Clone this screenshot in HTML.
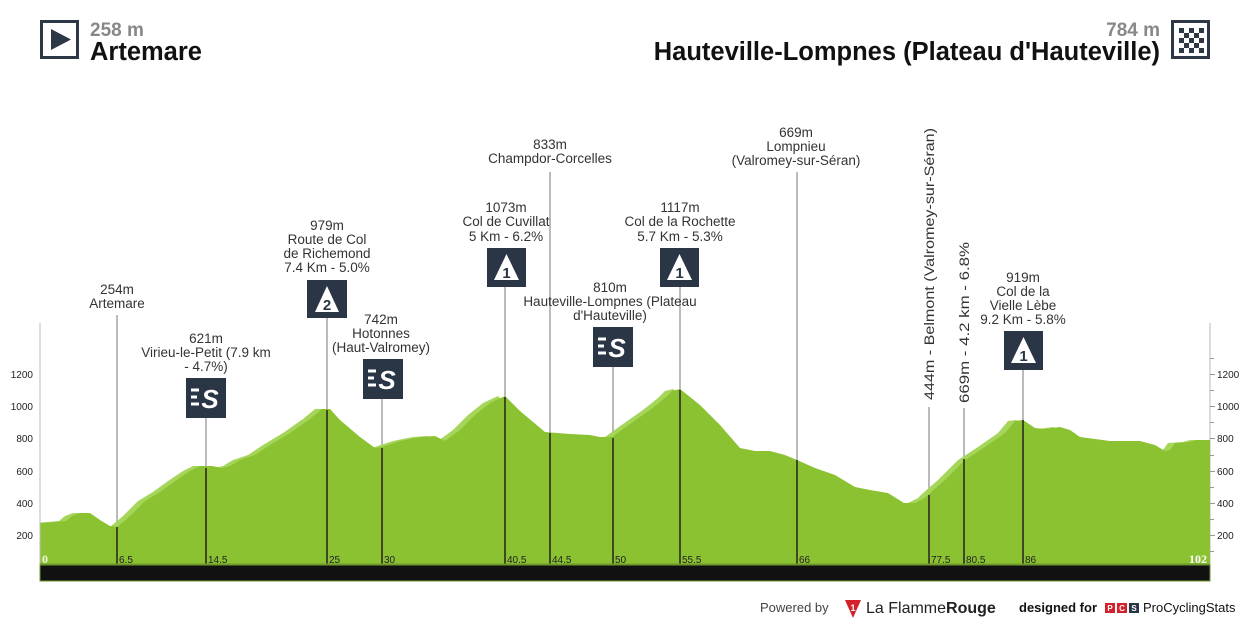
<!DOCTYPE html>
<html><head><meta charset="utf-8"><style>
html,body{margin:0;padding:0;background:#fff;}
svg{display:block;font-family:"Liberation Sans",sans-serif;}
</style></head><body>
<svg width="1250" height="625" viewBox="0 0 1250 625" xmlns="http://www.w3.org/2000/svg">
<!-- header -->
<rect x="41.5" y="21.5" width="36" height="36" fill="#fff" stroke="#2d3746" stroke-width="3"/>
<polygon points="51,29 51,50 71,39.5" fill="#2d3746"/>
<text x="90" y="36" font-size="19" font-weight="bold" fill="#888">258 m</text>
<text x="90" y="60" font-size="25.5" font-weight="bold" fill="#111">Artemare</text>
<rect x="1172.5" y="21.5" width="36" height="36" fill="#fff" stroke="#2d3746" stroke-width="3"/>
<g fill="#2d3746">
<rect x="1179" y="28" width="5" height="5"/><rect x="1189" y="28" width="5" height="5"/><rect x="1199" y="28" width="5" height="5"/>
<rect x="1184" y="33" width="5" height="5"/><rect x="1194" y="33" width="5" height="5"/>
<rect x="1179" y="38" width="5" height="5"/><rect x="1189" y="38" width="5" height="5"/><rect x="1199" y="38" width="5" height="5"/>
<rect x="1184" y="43" width="5" height="5"/><rect x="1194" y="43" width="5" height="5"/>
<rect x="1179" y="48" width="5" height="5"/><rect x="1189" y="48" width="5" height="5"/><rect x="1199" y="48" width="5" height="5"/>
</g>
<text x="1160" y="36" font-size="19" font-weight="bold" fill="#888" text-anchor="end">784 m</text>
<text x="1160" y="60" font-size="25.5" font-weight="bold" fill="#111" text-anchor="end">Hauteville-Lompnes (Plateau d'Hauteville)</text>

<!-- axes -->
<g stroke="#bbb" stroke-width="1">
<line x1="40" y1="323" x2="40" y2="565"/>
<line x1="1210" y1="323" x2="1210" y2="565"/>
</g>
<g stroke="#999" stroke-width="1">
<line x1="35" y1="374.5" x2="40" y2="374.5"/><line x1="35" y1="406.5" x2="40" y2="406.5"/><line x1="35" y1="438.5" x2="40" y2="438.5"/><line x1="35" y1="471.5" x2="40" y2="471.5"/><line x1="35" y1="503.5" x2="40" y2="503.5"/><line x1="35" y1="535.5" x2="40" y2="535.5"/>
<line x1="36" y1="358.5" x2="40" y2="358.5"/><line x1="36" y1="390.5" x2="40" y2="390.5"/><line x1="36" y1="422.5" x2="40" y2="422.5"/><line x1="36" y1="455.5" x2="40" y2="455.5"/><line x1="36" y1="487.5" x2="40" y2="487.5"/><line x1="36" y1="519.5" x2="40" y2="519.5"/><line x1="36" y1="551.5" x2="40" y2="551.5"/>
<line x1="1210" y1="374.5" x2="1215" y2="374.5"/><line x1="1210" y1="406.5" x2="1215" y2="406.5"/><line x1="1210" y1="438.5" x2="1215" y2="438.5"/><line x1="1210" y1="471.5" x2="1215" y2="471.5"/><line x1="1210" y1="503.5" x2="1215" y2="503.5"/><line x1="1210" y1="535.5" x2="1215" y2="535.5"/>
<line x1="1210" y1="358.5" x2="1214" y2="358.5"/><line x1="1210" y1="390.5" x2="1214" y2="390.5"/><line x1="1210" y1="422.5" x2="1214" y2="422.5"/><line x1="1210" y1="455.5" x2="1214" y2="455.5"/><line x1="1210" y1="487.5" x2="1214" y2="487.5"/><line x1="1210" y1="519.5" x2="1214" y2="519.5"/><line x1="1210" y1="551.5" x2="1214" y2="551.5"/>
</g>
<g font-size="10" fill="#222" text-anchor="end">
<text x="33" y="378">1200</text><text x="33" y="410">1000</text><text x="33" y="442">800</text><text x="33" y="475">600</text><text x="33" y="507">400</text><text x="33" y="539">200</text>
</g>
<g font-size="10" fill="#222">
<text x="1217" y="378">1200</text><text x="1217" y="410">1000</text><text x="1217" y="442">800</text><text x="1217" y="475">600</text><text x="1217" y="507">400</text><text x="1217" y="539">200</text>
</g>

<!-- grey marker lines -->
<g stroke="#bbb" stroke-width="2">
<line x1="117" y1="315" x2="117" y2="530"/>
<line x1="206" y1="417" x2="206" y2="470"/>
<line x1="327" y1="318" x2="327" y2="412"/>
<line x1="382" y1="398" x2="382" y2="450"/>
<line x1="505" y1="286" x2="505" y2="398"/>
<line x1="550" y1="172" x2="550" y2="434"/>
<line x1="613" y1="366" x2="613" y2="440"/>
<line x1="680" y1="286" x2="680" y2="390"/>
<line x1="797" y1="172" x2="797" y2="461"/>
<line x1="929" y1="407" x2="929" y2="498"/>
<line x1="964" y1="408" x2="964" y2="462"/>
<line x1="1023" y1="369" x2="1023" y2="422"/>
</g>

<!-- profile -->
<defs>
<polygon id="p" points="40,523 55,522 66,521 72,516 80,513 90,513 100,520 110,526 117,527 130,516 145,501 160,492 175,481 190,471 200,466 212,466 222,468 230,466 240,460 255,455 270,445 290,433 310,419 322,409 330,409 340,420 360,437 375,448 382,447 400,441 420,437 435,436 445,441 460,430 475,415 490,403 505,396 520,411 545,432 570,434 590,435 600,437 612,437 630,424 650,410 665,398 672,391 680,389 700,405 720,425 740,448 755,451 770,451 785,455 797,460 815,468 835,475 855,487 870,490 888,493 904,503 915,503 925,498 929,494 945,480 965,460 985,447 1005,433 1015,421 1023,420 1035,428 1045,429 1060,427 1070,430 1080,437 1095,439 1110,441 1140,441 1155,445 1165,451 1170,450 1175,443 1190,442 1197,440 1210,440 1210,565 40,565"/>
</defs>
<use href="#p" transform="translate(-7,0)" fill="#a5d65a"/>
<use href="#p" fill="#8bc232"/>
<rect x="33" y="300" width="7" height="270" fill="#fff"/>
<line x1="40" y1="323" x2="40" y2="565" stroke="#bbb"/>

<!-- dark marker lines -->
<g stroke="#3d4a22" stroke-width="2">
<line x1="117" y1="527" x2="117" y2="565"/>
<line x1="206" y1="468" x2="206" y2="565"/>
<line x1="327" y1="410" x2="327" y2="565"/>
<line x1="382" y1="448" x2="382" y2="565"/>
<line x1="505" y1="397" x2="505" y2="565"/>
<line x1="550" y1="433" x2="550" y2="565"/>
<line x1="613" y1="438" x2="613" y2="565"/>
<line x1="680" y1="390" x2="680" y2="565"/>
<line x1="797" y1="460" x2="797" y2="565"/>
<line x1="929" y1="495" x2="929" y2="565"/>
<line x1="964" y1="459" x2="964" y2="565"/>
<line x1="1023" y1="420" x2="1023" y2="565"/>
</g>

<!-- bottom bar -->
<rect x="40" y="565" width="1170" height="16" fill="#111" stroke="#6e9a2c" stroke-width="1"/>
<line x1="40" y1="564.5" x2="1210" y2="564.5" stroke="#6e9a2c" stroke-width="2"/>
<g font-size="10" fill="#222">
<text x="119" y="563">6.5</text><text x="208" y="563">14.5</text><text x="329" y="563">25</text><text x="384" y="563">30</text>
<text x="507" y="563">40.5</text><text x="552" y="563">44.5</text><text x="615" y="563">50</text><text x="682" y="563">55.5</text>
<text x="799" y="563">66</text><text x="931" y="563">77.5</text><text x="966" y="563">80.5</text><text x="1025" y="563">86</text>
</g>
<text x="42" y="563" font-size="12" font-weight="bold" fill="#eef8dd" font-family="Liberation Serif,serif">0</text>
<text x="1207" y="563" font-size="12" font-weight="bold" fill="#fff" text-anchor="end" font-family="Liberation Serif,serif">102</text>

<!-- icons -->
<g fill="#2a3545">
<rect x="186" y="378" width="40" height="40"/>
<rect x="307" y="280" width="40" height="38"/>
<rect x="363" y="359" width="40" height="40"/>
<rect x="487" y="248" width="39" height="39"/>
<rect x="593" y="327" width="40" height="40"/>
<rect x="660" y="248" width="39" height="39"/>
<rect x="1004" y="331" width="39" height="39"/>
</g>
<g fill="#fff">
<polygon points="327,286 315,312 339,312"/>
<polygon points="506.5,254 494,280 519,280"/>
<polygon points="679.5,254 667,280 692,280"/>
<polygon points="1023.5,337 1011,363 1036,363"/>
</g>
<g font-size="15" font-weight="bold" fill="#2a3545" text-anchor="middle">
<text x="327" y="310">2</text><text x="506.5" y="278">1</text><text x="679.5" y="278">1</text><text x="1023.5" y="361">1</text>
</g>
<g font-size="26" font-weight="bold" fill="#fff" font-style="italic" text-anchor="middle">
<text x="210" y="408">S</text><text x="387" y="389">S</text><text x="617" y="357">S</text>
</g>
<g stroke="#fff" stroke-width="3">
<line x1="191" y1="390" x2="199" y2="390"/><line x1="191" y1="397" x2="197" y2="397"/><line x1="191" y1="404" x2="199" y2="404"/>
<line x1="368" y1="371" x2="376" y2="371"/><line x1="368" y1="378" x2="374" y2="378"/><line x1="368" y1="385" x2="376" y2="385"/>
<line x1="598" y1="339" x2="606" y2="339"/><line x1="598" y1="346" x2="604" y2="346"/><line x1="598" y1="353" x2="606" y2="353"/>
</g>

<!-- labels -->
<g font-size="13.5" fill="#333" text-anchor="middle">
<text x="117" y="294">254m</text><text x="117" y="308">Artemare</text>
<text x="206" y="343">621m</text><text x="206" y="357">Virieu-le-Petit (7.9 km</text><text x="206" y="371">- 4.7%)</text>
<text x="327" y="230">979m</text><text x="327" y="244">Route de Col</text><text x="327" y="258">de Richemond</text><text x="327" y="272">7.4 Km - 5.0%</text>
<text x="381" y="324">742m</text><text x="381" y="338">Hotonnes</text><text x="381" y="352">(Haut-Valromey)</text>
<text x="506" y="212">1073m</text><text x="506" y="226">Col de Cuvillat</text><text x="506" y="241">5 Km - 6.2%</text>
<text x="550" y="149">833m</text><text x="550" y="163">Champdor-Corcelles</text>
<text x="610" y="292">810m</text><text x="610" y="306">Hauteville-Lompnes (Plateau</text><text x="610" y="320">d'Hauteville)</text>
<text x="680" y="212">1117m</text><text x="680" y="226">Col de la Rochette</text><text x="680" y="241">5.7 Km - 5.3%</text>
<text x="796" y="137">669m</text><text x="796" y="151">Lompnieu</text><text x="796" y="165">(Valromey-sur-Séran)</text>
<text x="1023" y="282">919m</text><text x="1023" y="296">Col de la</text><text x="1023" y="310">Vielle Lèbe</text><text x="1023" y="324">9.2 Km - 5.8%</text>
</g>
<g font-size="13.5" fill="#333">
<text transform="translate(934,400) rotate(-90)" textLength="272" lengthAdjust="spacingAndGlyphs">444m - Belmont (Valromey-sur-Séran)</text>
<text transform="translate(969,403) rotate(-90)" textLength="161" lengthAdjust="spacingAndGlyphs">669m - 4.2 km - 6.8%</text>
</g>

<!-- footer -->
<text x="760" y="612" font-size="13" fill="#444">Powered by</text>
<polygon points="845,600 861,600 853,618" fill="#d4202a"/>
<text x="853" y="611" font-size="9" font-weight="bold" fill="#fff" text-anchor="middle">1</text>
<text x="866" y="613" font-size="16" fill="#222">La Flamme<tspan font-weight="bold">Rouge</tspan></text>
<text x="1019" y="612" font-size="13" fill="#111" font-weight="bold">designed for</text>
<rect x="1105" y="603" width="10" height="10" fill="#d4202a"/><rect x="1117" y="603" width="10" height="10" fill="#d4202a"/><rect x="1129" y="603" width="10" height="10" fill="#2a3545"/>
<g font-size="8" font-weight="bold" fill="#fff" text-anchor="middle"><text x="1110" y="611">P</text><text x="1122" y="611">C</text><text x="1134" y="611">S</text></g>
<text x="1143" y="612" font-size="13" fill="#111">ProCyclingStats</text>
</svg>
</body></html>
